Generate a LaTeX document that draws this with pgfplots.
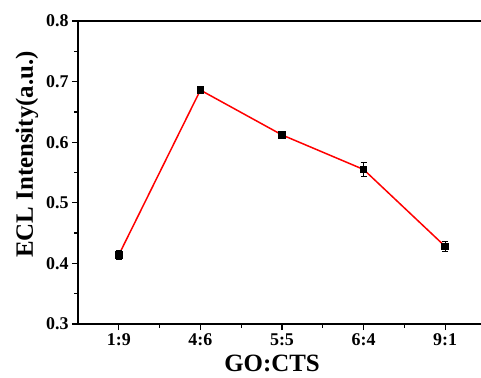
\documentclass[border=0pt]{standalone}
\usepackage{pgfplots}
\pgfplotsset{compat=1.18}
\usepackage{fontspec}
\setmainfont{Liberation Serif}
\begin{document}
\begin{tikzpicture}
\begin{axis}[
  scale only axis, width=408bp, height=303bp,
  xmin=-0.5, xmax=4.5, ymin=0.3, ymax=0.8,
  xtick={0,1,2,3,4}, xticklabels={1:9,4:6,5:5,6:4,9:1},
  minor x tick num=1,
  ytick={0.3,0.4,0.5,0.6,0.7,0.8}, minor y tick num=1,
  yticklabel style={/pgf/number format/fixed,/pgf/number format/precision=1,/pgf/number format/fixed zerofill},
  /pgf/number format/assume math mode=true,
  xtick pos=bottom, ytick pos=left,
  tick align=outside,
  major tick length=6bp, minor tick length=3.5bp,
  every tick/.style={black, line width=1.3bp},
  axis line style={line width=1.8bp},
  tick label style={font=\fontsize{18}{20}\selectfont\bfseries},
  label style={font=\fontsize{25}{28}\selectfont\bfseries},
  xlabel={GO:CTS}, ylabel={ECL Intensity(a.u.)},
  xlabel style={yshift=-3bp, xshift=-10bp},
  ylabel style={yshift=1bp, xshift=18bp},
  clip=false,
]
\addplot[red, line width=1.5bp, mark=square*, mark size=3bp,
  mark options={black, fill=black},
  error bars/.cd, y dir=both, y explicit,
  error bar style={black, line width=0.8bp},
  error mark options={rotate=90, mark size=3bp, black, line width=0.8bp}]
  coordinates {
  (0,0.414) +- (0,0.007)
  (1,0.686) +- (0,0.003)
  (2,0.612) +- (0,0.002)
  (3,0.555) +- (0,0.011)
  (4,0.428) +- (0,0.008)
  };
\end{axis}
\pgfresetboundingbox
\useasboundingbox (-78bp,-54bp) rectangle (403bp,324bp);
\end{tikzpicture}
\end{document}
